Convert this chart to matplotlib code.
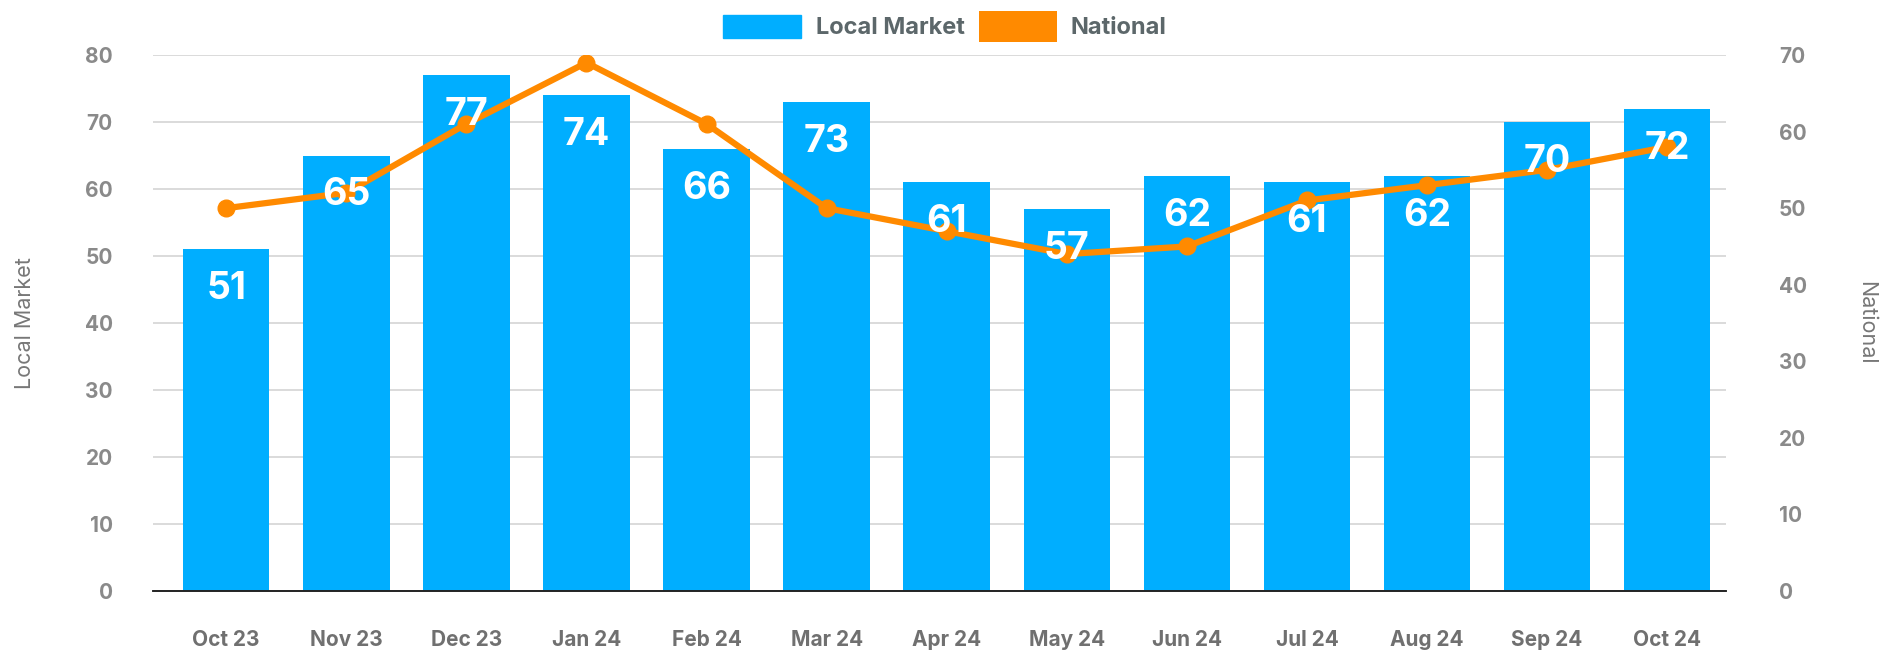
import matplotlib.pyplot as plt
from matplotlib.patches import Patch, Rectangle
from matplotlib.legend_handler import HandlerPatch

months = ['Oct 23', 'Nov 23', 'Dec 23', 'Jan 24', 'Feb 24', 'Mar 24', 'Apr 24',
          'May 24', 'Jun 24', 'Jul 24', 'Aug 24', 'Sep 24', 'Oct 24']
local_market = [51, 65, 77, 74, 66, 73, 61, 57, 62, 61, 62, 70, 72]
national = [50, 52, 61, 69, 61, 50, 47, 44, 45, 51, 53, 55, 58]

blue = '#00AEFF'
orange = '#FF8A00'
tick_grey = '#8a8a8a'

plt.rcParams['font.family'] = ['Inter', 'DejaVu Sans']


class TallPatch(HandlerPatch):
    # National swatch in the legend is a bit taller than the bar swatch
    def create_artists(self, legend, orig_handle, xdescent, ydescent, width, height, fontsize, trans):
        grow = height * 0.35
        r = Rectangle((-xdescent, -ydescent - grow / 2), width, height + grow,
                      facecolor=orig_handle.get_facecolor(), edgecolor='none', transform=trans)
        return [r]


fig = plt.figure(figsize=(18.9, 6.56), dpi=100)
ax = fig.add_axes([153 / 1890, 1 - 591 / 656, (1726 - 153) / 1890, (591 - 55) / 656])
ax2 = ax.twinx()

x = list(range(len(months)))
ax.bar(x, local_market, width=0.72, color=blue, zorder=2)
ax.set_xlim(-0.61, len(months) - 0.51)
ax.set_ylim(0, 80)
ax.set_yticks(range(0, 81, 10))
ax.grid(axis='y', color='#d4d4d4', linewidth=1.2, zorder=0)
ax.set_axisbelow(True)

ax2.plot(x, national, color=orange, linewidth=4.5, marker='o', markersize=12, zorder=3)
ax2.set_ylim(0, 70)
ax2.set_yticks(range(0, 71, 10))

# value labels sit on top of the line
for i, v in enumerate(local_market):
    ax2.annotate(str(v), xy=(i, v), xycoords=ax.transData, xytext=(0, -40),
                 textcoords='offset pixels', ha='center', va='center',
                 color='white', fontsize=27, fontweight='bold', zorder=5)

for a in (ax, ax2):
    for s in ('top', 'left', 'right'):
        a.spines[s].set_visible(False)
    a.spines['bottom'].set_color('#222222')
    a.spines['bottom'].set_linewidth(1.2)
    a.tick_params(length=0)

ax.set_xticks(x)
ax.set_xticklabels(months, fontsize=15, fontweight='bold', color='#707070')
ax.tick_params(axis='x', pad=28)
ax.tick_params(axis='y', pad=29, labelsize=15, labelcolor=tick_grey)
ax2.tick_params(axis='y', pad=38, labelsize=15, labelcolor=tick_grey)
for lab in ax.get_yticklabels() + ax2.get_yticklabels():
    lab.set_fontweight('bold')

ax.set_ylabel('Local Market', fontsize=15.5, color='#777777', labelpad=36)
ax2.set_ylabel('National', fontsize=15.5, color='#777777', rotation=270, labelpad=50)

nat_patch = Patch(color=orange, label='National')
handles = [Patch(color=blue, label='Local Market'), nat_patch]
fig.legend(handles=handles, loc='upper center', bbox_to_anchor=(0.5, 1.01), ncol=2,
           frameon=False, handlelength=3.3, handleheight=1.15, handletextpad=0.6,
           columnspacing=0.6, prop={'size': 17, 'weight': 'bold'}, labelcolor='#5c676a',
           handler_map={nat_patch: TallPatch()})

fig.savefig('out.png', dpi=100)
